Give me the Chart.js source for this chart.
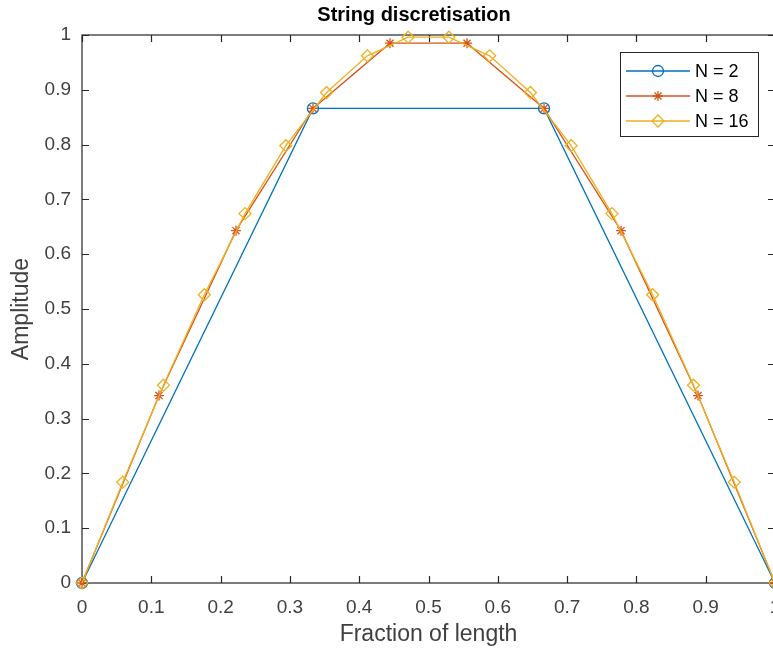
<!DOCTYPE html>
<html>
<head>
<meta charset="utf-8">
<script src="https://cdn.jsdelivr.net/npm/chart.js@4"></script>
<style>
  html, body { margin: 0; padding: 0; background: #fff; }
  #wrap { width: 773px; height: 657px; overflow: hidden; position: relative; }
  #box { width: 800px; height: 657px; }
</style>
</head>
<body>
<div id="wrap"><div id="box"><canvas id="c"></canvas></div></div>
<script>
// ---- data ----
const x2  = [0, 0.3333, 0.6667, 1];
const y2  = [0, 0.866, 0.866, 0];

const x8  = [0, 0.1111, 0.2222, 0.3333, 0.4444, 0.5556, 0.6667, 0.7778, 0.8889, 1];
const y8  = [0, 0.342, 0.643, 0.866, 0.985, 0.985, 0.866, 0.643, 0.342, 0];

const x16 = [0, 0.0588, 0.1176, 0.1765, 0.2353, 0.2941, 0.3529, 0.4118, 0.4706,
             0.5294, 0.5882, 0.6471, 0.7059, 0.7647, 0.8235, 0.8824, 0.9412, 1];
const y16 = [0, 0.184, 0.361, 0.526, 0.674, 0.798, 0.895, 0.962, 0.996,
             0.996, 0.962, 0.895, 0.798, 0.674, 0.526, 0.361, 0.184, 0];

const seriesNames = ['N = 2', 'N = 8', 'N = 16'];

const tickValues = [0, 0.1, 0.2, 0.3, 0.4, 0.5, 0.6, 0.7, 0.8, 0.9, 1];
const tickLabels = ['0', '0.1', '0.2', '0.3', '0.4', '0.5', '0.6', '0.7', '0.8', '0.9', '1'];

const titleText = 'String discretisation';
const xTitle = 'Fraction of length';
const yTitle = 'Amplitude';

// ---- styling ----
const FONT = '"Liberation Sans", Arial, Helvetica, sans-serif';
const AXIS_COLOR = '#262626';
const LABEL_COLOR = '#404040';
const colors = ['#0072BD', '#D95319', '#EDB120'];
const styles = ['circle', 'star', 'rectRot'];
const radii = [5.5, 5, 6];

function pts(xs, ys) { return xs.map((x, i) => ({ x: x, y: ys[i] })); }

const datasets = [pts(x2, y2), pts(x8, y8), pts(x16, y16)].map((d, i) => ({
  label: seriesNames[i],
  data: d,
  borderColor: colors[i],
  backgroundColor: 'rgba(0,0,0,0)',
  borderWidth: 1.3,
  pointStyle: styles[i],
  pointRadius: radii[i],
  pointBorderColor: colors[i],
  pointBackgroundColor: 'rgba(0,0,0,0)',
  pointBorderWidth: 1.3,
  tension: 0,
  clip: false,
  order: 2 - i
}));

const boxPlugin = {
  id: 'matlabBox',
  beforeDatasetsDraw(chart) {
    const { ctx, chartArea: a, scales } = chart;
    ctx.save();
    ctx.strokeStyle = AXIS_COLOR;
    ctx.lineWidth = 1.2;
    ctx.strokeRect(a.left, a.top, a.right - a.left, a.bottom - a.top);
    const tl = 7;
    ctx.beginPath();
    tickValues.forEach(v => {
      const px = Math.round(scales.x.getPixelForValue(v)) + 0.5;
      ctx.moveTo(px, a.bottom); ctx.lineTo(px, a.bottom - tl);
      ctx.moveTo(px, a.top); ctx.lineTo(px, a.top + tl);
      const py = Math.round(scales.y.getPixelForValue(v)) + 0.5;
      ctx.moveTo(a.left, py); ctx.lineTo(a.left + tl, py);
      ctx.moveTo(a.right, py); ctx.lineTo(a.right - tl, py);
    });
    ctx.stroke();
    // title
    ctx.fillStyle = '#000';
    ctx.font = 'bold 20px ' + FONT;
    ctx.textAlign = 'center';
    ctx.textBaseline = 'middle';
    ctx.fillText(titleText, 414, 15);
    ctx.restore();
  }
};

const legendPlugin = {
  id: 'matlabLegend',
  afterDraw(chart) {
    const { ctx } = chart;
    const bx = 620, by = 52, bw = 138, bh = 84;
    ctx.save();
    ctx.fillStyle = '#fff';
    ctx.fillRect(bx, by, bw, bh);
    ctx.strokeStyle = AXIS_COLOR;
    ctx.lineWidth = 1;
    ctx.strokeRect(bx + 0.5, by + 0.5, bw, bh);
    const rows = [71, 96, 121];
    chart.data.datasets.forEach((ds, i) => {
      const y = rows[i];
      ctx.strokeStyle = ds.borderColor;
      ctx.lineWidth = 1.3;
      ctx.beginPath();
      ctx.moveTo(626, y); ctx.lineTo(690, y);
      ctx.stroke();
      ctx.fillStyle = 'rgba(0,0,0,0)';
      Chart.helpers.drawPoint(ctx, {
        pointStyle: ds.pointStyle, radius: ds.pointRadius, rotation: 0, borderWidth: 1.3
      }, 658, y);
      ctx.fillStyle = '#000';
      ctx.font = '18px ' + FONT;
      ctx.textBaseline = 'middle';
      ctx.textAlign = 'left';
      ctx.fillText(ds.label, 695, y + 1);
    });
    ctx.restore();
  }
};

function axisOpts(titleStr, isX) {
  return {
    type: 'linear',
    min: 0, max: 1,
    afterBuildTicks(scale) { scale.ticks = tickValues.map(v => ({ value: v })); },
    afterFit(scale) {
      if (isX) scale.height = 74; else scale.width = 82;
    },
    grid: { display: true, drawOnChartArea: false, drawTicks: false },
    border: { display: false },
    ticks: {
      autoSkip: false,
      maxRotation: 0,
      color: LABEL_COLOR,
      font: { family: FONT, size: 19 },
      padding: isX ? 13 : 11,
      callback: (v, i) => tickLabels[i]
    },
    title: {
      display: true,
      text: titleStr,
      color: LABEL_COLOR,
      font: { family: FONT, size: 23 },
      padding: isX ? { top: 0, bottom: 9 } : { top: 8, bottom: 0 }
    }
  };
}

new Chart(document.getElementById('c'), {
  type: 'line',
  data: { datasets: datasets },
  options: {
    responsive: true,
    maintainAspectRatio: false,
    animation: false,
    layout: { padding: { left: 0, right: 25, top: 35, bottom: 0 } },
    scales: { x: axisOpts(xTitle, true), y: axisOpts(yTitle, false) },
    plugins: {
      legend: { display: false },
      tooltip: { enabled: false },
      title: { display: false }
    }
  },
  plugins: [boxPlugin, legendPlugin]
});
</script>
</body>
</html>
